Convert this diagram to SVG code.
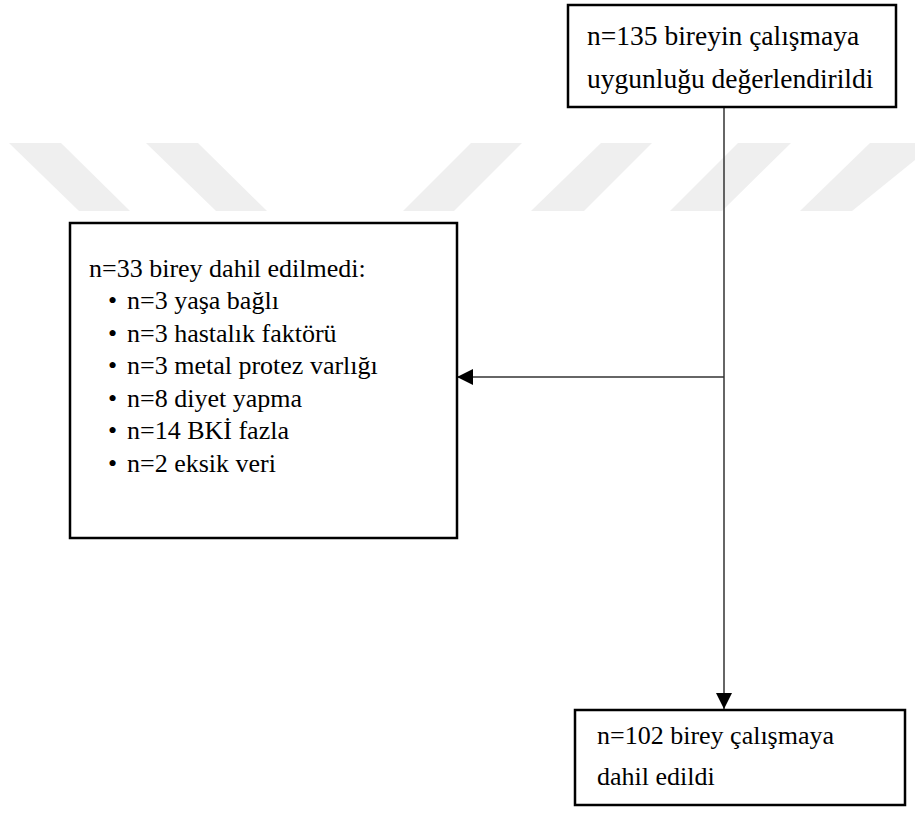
<svg xmlns="http://www.w3.org/2000/svg" width="915" height="816" viewBox="0 0 915 816">
<style>
.box{fill:#fff;stroke:#000;stroke-width:2.5}
.t{font-family:"Liberation Serif","Times New Roman",serif;font-size:26px;fill:#000}
.tl{font-size:27.5px}
.c{stroke:#333;stroke-width:1.5;fill:none}
.wm{fill:#efefef}
</style>
<defs>
<marker id="ah2" viewBox="0 0 16 16" refX="16" refY="8" markerWidth="16" markerHeight="16" markerUnits="userSpaceOnUse" orient="auto">
<path d="M0,0 L16,8 L0,16 Z" fill="#000"/>
</marker>
</defs>
<rect width="915" height="816" fill="#fff"/>
<g id="watermark">
<polygon class="wm" points="9,143 61,143 130,211 79,211"/>
<polygon class="wm" points="146,143 198,143 267,211 216,211"/>
<polygon class="wm" points="471,143 522,143 454,211 403,211"/>
<polygon class="wm" points="601,143 652,143 584,211 531,211"/>
<polygon class="wm" points="738,143 791,143 722,211 670,211"/>
<polygon class="wm" points="870,143 915,143 915,160 852,211 800,211"/>
</g>
<g id="connectors">
<line class="c" x1="724" y1="108" x2="724" y2="709" marker-end="url(#ah2)"/>
<line class="c" x1="724" y1="377" x2="457" y2="377" marker-end="url(#ah2)"/>
</g>
<g id="node-assessed">
<rect class="box" x="568" y="5" width="328" height="102"/>
<text class="t tl" x="587" y="45">n=135 bireyin çalışmaya</text>
<text class="t tl" x="587" y="88">uygunluğu değerlendirildi</text>
</g>
<g id="node-excluded">
<rect class="box" x="70" y="223" width="387" height="315"/>
<text class="t" x="89" y="277">n=33 birey dahil edilmedi:</text>
<text class="t" x="108" y="309">•</text><text class="t" x="127" y="309">n=3 yaşa bağlı</text>
<text class="t" x="108" y="341.5">•</text><text class="t" x="127" y="341.5">n=3 hastalık faktörü</text>
<text class="t" x="108" y="374">•</text><text class="t" x="127" y="374">n=3 metal protez varlığı</text>
<text class="t" x="108" y="406.5">•</text><text class="t" x="127" y="406.5">n=8 diyet yapma</text>
<text class="t" x="108" y="439">•</text><text class="t" x="127" y="439">n=14 BKİ fazla</text>
<text class="t" x="108" y="471.5">•</text><text class="t" x="127" y="471.5">n=2 eksik veri</text>
</g>
<g id="node-included">
<rect class="box" x="575" y="710" width="330" height="95"/>
<text class="t" x="597" y="744">n=102 birey çalışmaya</text>
<text class="t" x="597" y="785">dahil edildi</text>
</g>
</svg>
